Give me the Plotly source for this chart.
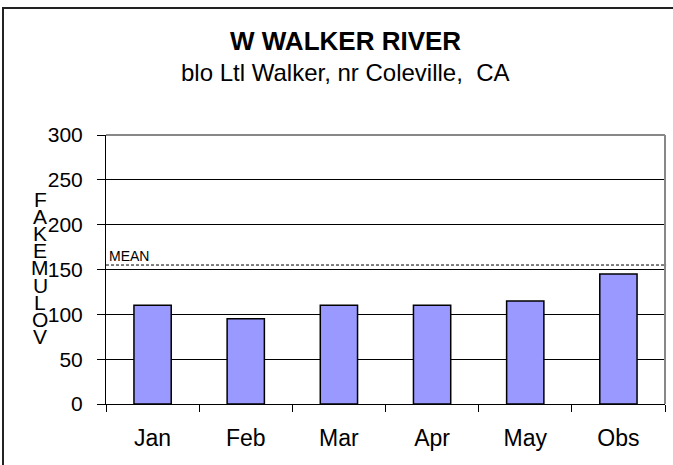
import plotly.graph_objects as go

# data
months = ['Jan', 'Feb', 'Mar', 'Apr', 'May', 'Obs']
volume = [110, 95, 110, 110, 115, 145]
mean_volume = 155
y_label = 'VOLUMEKAF'

W, H = 673, 465
L, R, T, B = 106, 8, 135, 61
pw, ph = W - L - R, H - T - B


def px(x):
    return (x - L) / pw


def py(y):
    return (H - B - y) / ph


fig = go.Figure()
fig.add_trace(go.Bar(
    x=months, y=volume,
    marker_color='#9999FF',
    marker_line_color='black',
    marker_line_width=1.5,
))

fig.update_layout(
    width=W, height=H,
    margin=dict(l=L, r=R, t=T, b=B),
    paper_bgcolor='white', plot_bgcolor='white',
    showlegend=False,
    bargap=0.6,
    font=dict(family='Liberation Sans, Arial, sans-serif', color='black'),
)
fig.update_xaxes(
    showline=True, linecolor='black', linewidth=1,
    ticks='outside', ticklen=7, tickcolor='black', tickson='boundaries',
    tickfont=dict(size=23), showgrid=False, ticklabelstandoff=13,
)
fig.update_yaxes(
    range=[0, 300], dtick=50,
    showline=True, linecolor='black', linewidth=1,
    ticks='outside', ticklen=8, tickcolor='black',
    tickfont=dict(size=21), ticklabelstandoff=10,
    showgrid=True, gridcolor='black', gridwidth=1, zeroline=False,
)

#------------------ mean line ------------------#
fig.add_shape(type='line', xref='paper', yref='y',
              x0=0, x1=1.002, y0=mean_volume, y1=mean_volume,
              line=dict(color='black', width=1, dash='3px,2px'))
fig.add_annotation(text='MEAN', xref='paper', yref='y', x=px(107), y=mean_volume,
                   xanchor='left', yanchor='bottom', showarrow=False,
                   font=dict(size=14), yshift=-1)

#------------------ plot border top/right ------------------#
fig.add_shape(type='line', xref='paper', yref='paper', x0=0, x1=1, y0=1, y1=1,
              line=dict(color='#888888', width=2))
fig.add_shape(type='line', xref='paper', yref='paper', x0=1, x1=1, y0=0, y1=1,
              line=dict(color='#888888', width=2))

#------------------ chart border ------------------#
fig.add_shape(type='rect', xref='paper', yref='paper',
              x0=px(3), x1=px(690), y0=py(8), y1=py(490),
              line=dict(color='#222222', width=2), layer='below')

#------------------ titles ------------------#
fig.add_annotation(text='<b>W WALKER RIVER</b>', xref='paper', yref='paper',
                   x=px(345), y=py(41), xanchor='center', yanchor='middle',
                   showarrow=False, font=dict(size=26))
fig.add_annotation(text='blo Ltl Walker, nr Coleville,  CA', xref='paper', yref='paper',
                   x=px(345), y=py(72), xanchor='center', yanchor='middle',
                   showarrow=False, font=dict(size=24))

#------------------ y label (stacked letters) ------------------#
for i, ch in enumerate(reversed(y_label)):
    fig.add_annotation(text=ch, xref='paper', yref='paper',
                       x=px(40), y=py(199.5 + i * 17.1),
                       xanchor='center', yanchor='middle', showarrow=False,
                       font=dict(size=21))

fig.write_html('out.html', config={'displayModeBar': False},
               post_script="document.body.style.margin='0';")
